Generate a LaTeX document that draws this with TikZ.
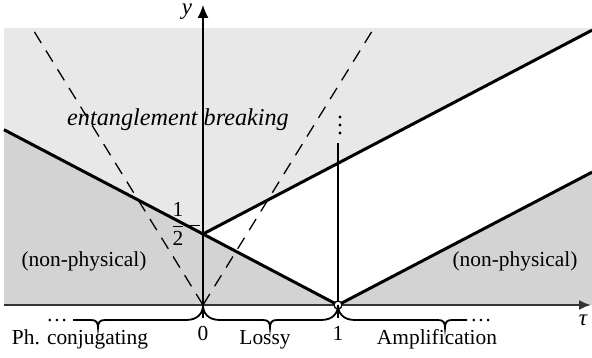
\documentclass[tikz,border=0pt]{standalone}
\usepackage{fontspec}
\setmainfont{Liberation Serif}
\usetikzlibrary{arrows.meta}
\definecolor{lightg}{HTML}{E8E8E8}
\definecolor{darkg}{HTML}{D3D3D3}
\definecolor{axisg}{HTML}{333333}
\begin{document}
\begin{tikzpicture}[x=1pt,y=-1pt, font=\fontsize{21.4}{26}\selectfont,
  thickline/.style={line width=3pt},
  thinline/.style={line width=1.3pt},
  dashline/.style={line width=1.3pt, dash pattern=on 13pt off 9pt},
  bracepath/.style={line width=1.8pt},
  lbl/.style={inner sep=0pt, anchor=base},
  dotmark/.style={fill=black}]
\useasboundingbox (0,0) rectangle (592,358);
\coordinate (O) at (203,305);
\coordinate (H) at (203,234);
\coordinate (P) at (338,305);
\coordinate (LT) at (4,129.7);
\coordinate (RU) at (592,30.2);
\coordinate (RL) at (592,172.2);
\coordinate (DL) at (32,28);
\coordinate (DR) at (374,28);
% regions
\fill[lightg] (4,28) rectangle (592,305);
\fill[white] (H) -- (RU) -- (RL) -- (P) -- cycle;
\fill[darkg] (LT) -- (H) -- (P) -- (4,305) -- cycle;
\fill[darkg] (P) -- (RL) -- (592,305) -- cycle;
% dashed lines
\draw[dashline] (O) -- (DL);
\draw[dashline] (O) -- (DR);
% boundaries
\draw[thickline] (LT) -- (H) -- (P) -- (RL);
\draw[thickline] (H) -- (RU);
% axes
\draw[line width=2pt, axisg, -{Latex[length=12pt,width=10pt]}] (4,305) -- (591,305);
\draw[thinline, -{Latex[length=13pt,width=11pt]}] (203,318) -- (203,5);
\draw[thinline] (338,318) -- (338,143);
\draw[line width=1.3pt, fill=white] (P) circle (4pt);
% vertical dots
\fill[dotmark] (340,117) circle (1.6pt);
\fill[dotmark] (340,125) circle (1.6pt);
\fill[dotmark] (340,133) circle (1.6pt);
% braces
\draw[bracepath] (73,320) -- (91,320) .. controls (96,320) and (98,322) .. (98,328)
  .. controls (98,322) and (100,320) .. (105,320) -- (186,320)
  .. controls (198,320) and (203,313) .. (O);
\draw[bracepath] (O) .. controls (203,313) and (208,320) .. (220,320) -- (263,320)
  .. controls (268,320) and (270,322) .. (270,328)
  .. controls (270,322) and (272,320) .. (277,320) -- (321,320)
  .. controls (333,320) and (338,313) .. (P);
\draw[bracepath] (P) .. controls (338,313) and (343,320) .. (355,320) -- (438,320)
  .. controls (443,320) and (445,322) .. (445,328)
  .. controls (445,322) and (447,320) .. (452,320) -- (467,320);
% labels
\node[lbl, font=\fontsize{23}{26}\selectfont\itshape] (ylab) at (187,15) {y};
\node[lbl, font=\fontsize{23}{26}\selectfont\itshape] (taulab) at (583,325) {τ};
\node[lbl] (zero) at (203,341) {0};
\node[lbl] (one) at (338,341) {1};
\node[lbl] (phc) at (80,344) {Ph. conjugating};
\node[lbl] (lossy) at (265,344) {Lossy};
\node[lbl] (amp) at (437,344) {Amplification};
\node[lbl] (dl) at (57,321) {\dots};
\node[lbl] (dr) at (481,321) {\dots};
\node[lbl, font=\fontsize{24.2}{28}\selectfont\itshape] (eb) at (178,126) {entanglement breaking};
\node[lbl] (np1) at (84,267) {(non-physical)};
\node[lbl] (np2) at (515,267) {(non-physical)};
\node[inner sep=0pt] (half) at (178,224) {$\displaystyle\frac{\textrm{1}}{\textrm{2}}$};
\draw[line width=0.9pt] (half.east |- 0,225) -- (200,225);
\end{tikzpicture}
\end{document}
